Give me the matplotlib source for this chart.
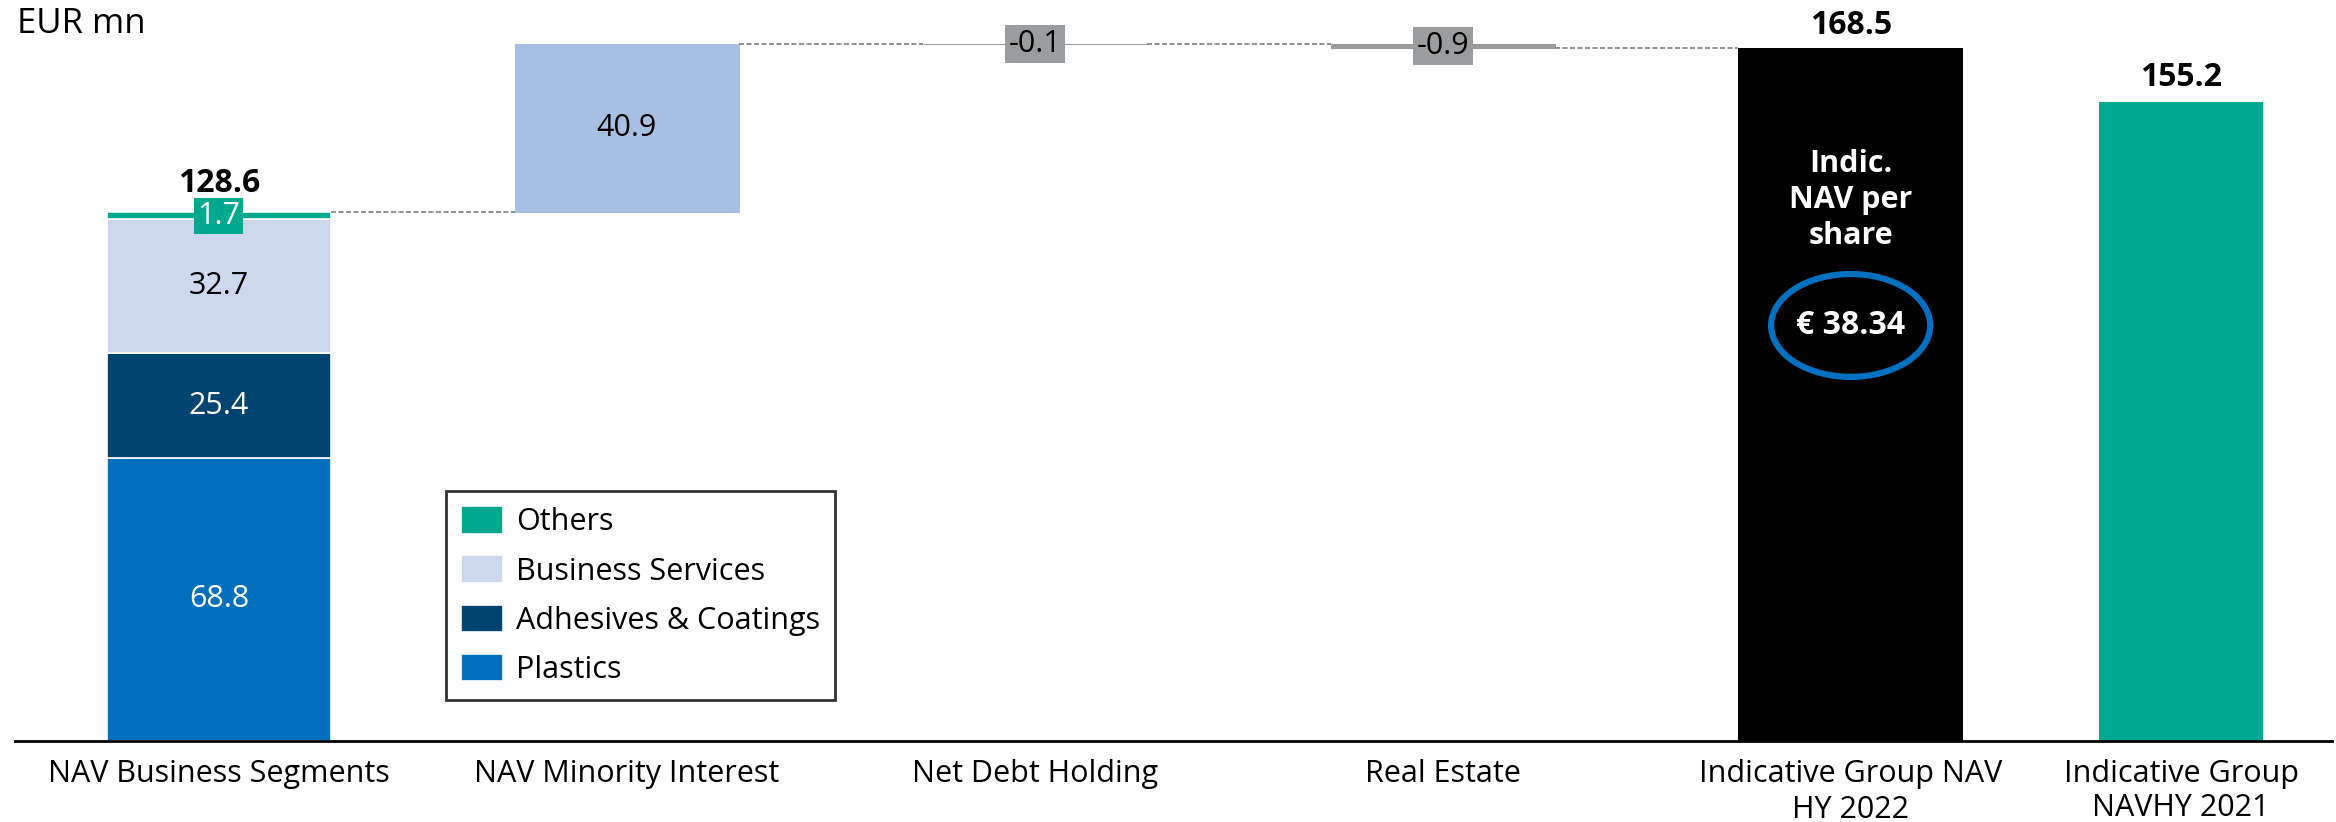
import matplotlib.pyplot as plt
from matplotlib.patches import Ellipse

plt.rcParams['font.family'] = ['Open Sans', 'DejaVu Sans']

# categories on the x axis
categories = ['NAV Business Segments', 'NAV Minority Interest', 'Net Debt Holding',
              'Real Estate', 'Indicative Group NAV\nHY 2022', 'Indicative Group\nNAVHY 2021']

# stacked first bar: business segments, bottom to top
segment_names = ['Plastics', 'Adhesives & Coatings', 'Business Services', 'Others']
segment_values = [68.8, 25.4, 32.7, 1.7]
segments_total = 128.6

# bridge steps after the segments
step_values = [40.9, -0.1, -0.9]

nav_2022 = 168.5
nav_2021 = 155.2
nav_per_share = '€ 38.34'

seg_colors = ['#0070BD', '#00446F', '#CDD8EE', '#00A88E']
seg_text = ['white', 'white', 'black', 'white']
up_color = '#A7BFE3'
down_color = '#9A9C9E'
dash_color = '#7F7F7F'

xpos = [0, 1, 2, 3, 4, 4.81]
w = 0.55
w_last = 0.40

fig = plt.figure(figsize=(23.36, 8.22), dpi=100)
ax = fig.add_axes([15 / 2336, 81 / 822, 2317 / 2336, 720 / 822])

# first bar, stacked segments
bottom = 0
for name, v, c, tc in zip(segment_names, segment_values, seg_colors, seg_text):
    ax.bar(xpos[0], v, w, bottom=bottom, color=c, edgecolor='white', linewidth=1.2, label=name)
    if name != 'Others':
        ax.text(xpos[0], bottom + v / 2, f'{v:.1f}', ha='center', va='center', fontsize=22, color=tc)
    bottom += v
# small green label box for the tiny segment
ax.text(xpos[0], bottom - 0.9, f'{segment_values[-1]:.1f}', ha='center', va='center', fontsize=22,
        color='white', bbox=dict(boxstyle='square,pad=0.1', fc=seg_colors[-1], ec='none'))
ax.text(xpos[0], segments_total + 3, f'{segments_total:.1f}', ha='center', va='bottom',
        fontsize=23, fontweight='bold')

# waterfall steps
running = segments_total
prev_right = xpos[0] + w / 2
for i, s in enumerate(step_values):
    x = xpos[i + 1]
    ax.plot([prev_right, x - w / 2], [running, running], color=dash_color, lw=1.2, ls=(0, (3, 1.5)))
    base = running if s > 0 else running + s
    col = up_color if s > 0 else down_color
    ax.bar(x, abs(s), w, bottom=base, color=col, edgecolor=col, linewidth=0.8)
    if s > 0:
        ax.text(x, base + s / 2, f'{s:.1f}', ha='center', va='center', fontsize=22)
    else:
        ax.text(x, base + abs(s) / 2, f'{s:.1f}', ha='center', va='center', fontsize=22,
                bbox=dict(boxstyle='square,pad=0.12', fc=down_color, ec='none'))
    running += s
    prev_right = x + w / 2
ax.plot([prev_right, xpos[4] - w / 2], [running, running], color=dash_color, lw=1.2, ls=(0, (3, 1.5)))

# totals
ax.bar(xpos[4], nav_2022, w, color='black')
ax.text(xpos[4], nav_2022 + 1.5, f'{nav_2022:.1f}', ha='center', va='bottom', fontsize=23, fontweight='bold')
ax.bar(xpos[5], nav_2021, w_last, color='#00A88F')
ax.text(xpos[5], nav_2021 + 2, f'{nav_2021:.1f}', ha='center', va='bottom', fontsize=23, fontweight='bold')

# NAV per share callout
ax.text(xpos[4], 131.5, 'Indic.\nNAV per\nshare', ha='center', va='center', color='white',
        fontsize=22, fontweight='bold', linespacing=1.25)
ax.add_patch(Ellipse((xpos[4], 101), 0.39, 25, fill=False, ec='#0070C0', lw=4.5))
ax.text(xpos[4], 101, nav_per_share, ha='center', va='center', color='white', fontsize=23, fontweight='bold')

ax.set_xlim(-0.5, 5.18)
ax.set_ylim(0, 175)
ax.set_xticks(xpos, categories, fontsize=22)
for lab in ax.get_xticklabels():
    lab.set_linespacing(1.28)
ax.get_xticklabels()[-1].set_linespacing(1.18)
ax.tick_params(axis='x', length=0, pad=13)
ax.set_yticks([])
for sp in ['top', 'right', 'left']:
    ax.spines[sp].set_visible(False)
ax.spines['bottom'].set_linewidth(2)

fig.text(17 / 2336, 1 - 24 / 822, 'EUR mn', ha='left', va='center', fontsize=25)

handles, labels = ax.get_legend_handles_labels()
leg = ax.legend(handles[::-1], labels[::-1], loc='upper left', bbox_to_anchor=(446 / 2336, 1 - 491 / 822),
                bbox_transform=fig.transFigure, fontsize=22, frameon=True, fancybox=False,
                handlelength=1.37, handleheight=1.0, labelspacing=0.59, borderpad=0.5, handletextpad=0.42,
                borderaxespad=0)
leg.get_frame().set_edgecolor('black')
leg.get_frame().set_linewidth(2)

plt.savefig('out.png', dpi=100)
